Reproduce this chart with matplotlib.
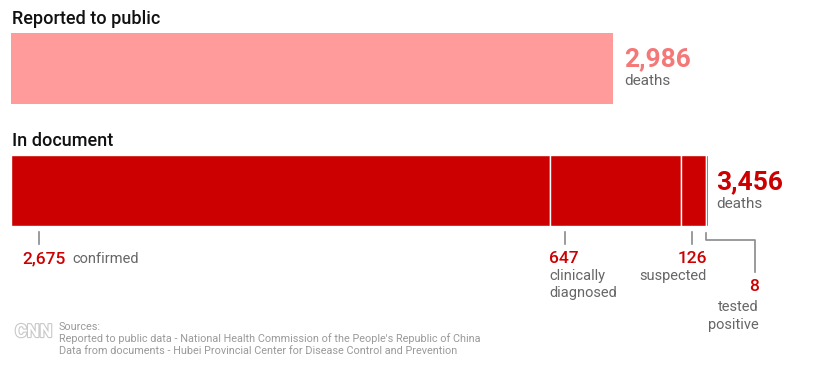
import matplotlib.pyplot as plt
import matplotlib.patheffects as pe

plt.rcParams['font.family'] = ['Roboto', 'DejaVu Sans']

reported_total = 2986
doc_labels = ["confirmed", "clinically\ndiagnosed", "suspected", "tested\npositive"]
doc_values = [2675, 647, 126, 8]
doc_total = sum(doc_values)

light_red = "#FF9B9B"
light_text = "#F47878"
dark_red = "#CC0000"
gray = "#666666"
line_gray = "#8A8A8A"

W, H = 817, 374
left_px, right_px = 11, 708


def px(p):
    # pixel x -> data x
    return (p - left_px) / (right_px - left_px) * doc_total


fig = plt.figure(figsize=(W / 100, H / 100), dpi=100)
ax = fig.add_axes([left_px / W, 0, (right_px - left_px) / W, 1])
ax.set_xlim(0, doc_total)
ax.set_ylim(H, 0)
ax.axis("off")

# bars
ax.barh(68.5, reported_total, height=71, left=0, color=light_red, edgecolor="none")
lefts = [sum(doc_values[:i]) for i in range(len(doc_values))]
ax.barh([190.5] * len(doc_values), doc_values, height=71, left=lefts,
        color=dark_red, edgecolor="white", linewidth=1)

# headers
ax.text(px(12), 24, "Reported to public", fontsize=13, fontweight="medium", color="#111111")
ax.text(px(12), 146, "In document", fontsize=13, fontweight="medium", color="#111111")

# totals, offset a few pixels past the bar ends
gap = px(22) - px(11)
ax.text(reported_total + gap, 66, f"{reported_total:,}", fontsize=19,
        fontweight="bold", color=light_text)
ax.text(reported_total + gap, 85, "deaths", fontsize=11, color=gray)
gap = px(19) - px(11)
ax.text(doc_total + gap, 189, f"{doc_total:,}", fontsize=19,
        fontweight="bold", color=dark_red)
ax.text(doc_total + gap, 208, "deaths", fontsize=11, color=gray)

# ticks
for tx in [39, 565, 692]:
    ax.plot([px(tx), px(tx)], [232, 244], color=line_gray, lw=1.2, clip_on=False)
ax.plot([px(706), px(706), px(755), px(755)], [233, 240, 240, 272],
        color=line_gray, lw=1.2, clip_on=False)

# segment labels
num_kw = dict(fontsize=12.5, fontweight="medium", color=dark_red)
lab_kw = dict(fontsize=10.5, color=gray)
ax.text(px(22), 263, f"{doc_values[0]:,}", **num_kw)
ax.text(px(72), 263, doc_labels[0], **lab_kw)

ax.text(px(549), 263, f"{doc_values[1]:,}", **num_kw)
ax.text(px(549), 280, "clinically", **lab_kw)
ax.text(px(549), 297, "diagnosed", **lab_kw)

ax.text(px(707), 263, f"{doc_values[2]:,}", ha="right", **num_kw)
ax.text(px(707), 280, doc_labels[2], ha="right", **lab_kw)

ax.text(px(759), 291, f"{doc_values[3]:,}", ha="right", **num_kw)
ax.text(px(759), 311, "tested", ha="right", **lab_kw)
ax.text(px(759), 329, "positive", ha="right", **lab_kw)

# footer
ax.text(px(15), 337, "CNN", fontsize=13, fontweight="bold", color="white",
        path_effects=[pe.withStroke(linewidth=1.6, foreground="#C8C8C8")])
src = ["Sources:",
       "Reported to public data - National Health Commission of the People's Republic of China",
       "Data from documents - Hubei Provincial Center for Disease Control and Prevention"]
for i, s in enumerate(src):
    ax.text(px(59), 330 + 12 * i, s, fontsize=7.8, color="#9A9A9A")

fig.savefig("out.png", dpi=100)
